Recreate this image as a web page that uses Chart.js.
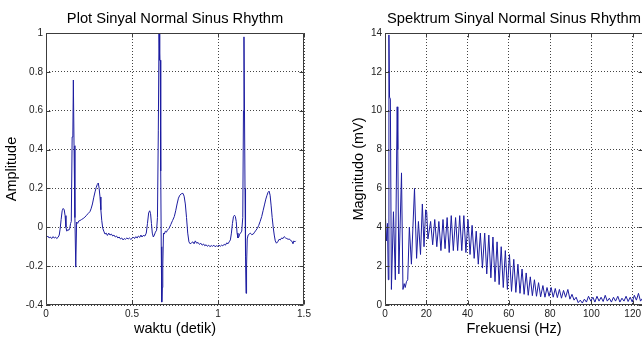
<!DOCTYPE html>
<html><head><meta charset="utf-8">
<script src="https://cdn.jsdelivr.net/npm/chart.js@4.4.0/dist/chart.umd.min.js"></script>
<style>
html,body{margin:0;padding:0;background:#fff;overflow:hidden;width:642px;height:338px;}
#c1{position:absolute;left:0;top:0;}
#c2{position:absolute;left:320px;top:0;}
</style></head><body>
<canvas id="c1" width="320" height="338"></canvas>
<canvas id="c2" width="330" height="338"></canvas>
<script>
// ECG signal (time in seconds, amplitude)
const ecgTime = [
0.000,0.010,0.018,0.025,0.033,0.040,0.048,0.055,0.062,0.070,0.077,0.082,0.088,0.094,0.100,0.106,0.111,0.116,0.121,0.127,
0.133,0.138,0.143,0.147,0.152,0.156,0.159,0.163,0.168,0.173,0.178,0.184,0.190,0.198,0.207,0.216,0.226,0.236,0.246,0.255,
0.262,0.270,0.278,0.285,0.292,0.298,0.304,0.309,0.314,0.319,0.324,0.330,0.336,0.343,0.350,0.357,0.365,0.372,0.380,0.388,
0.395,0.403,0.410,0.418,0.425,0.433,0.440,0.448,0.455,0.462,0.470,0.478,0.485,0.493,0.500,0.508,0.515,0.522,0.530,0.537,
0.545,0.552,0.558,0.565,0.575,0.583,0.590,0.597,0.603,0.608,0.613,0.618,0.624,0.630,0.636,0.643,0.648,0.653,0.657,0.661,
0.664,0.667,0.670,0.673,0.676,0.679,0.683,0.688,0.694,0.700,0.706,0.716,0.726,0.736,0.746,0.754,0.762,0.770,0.778,0.786,
0.796,0.803,0.810,0.817,0.824,0.831,0.838,0.846,0.854,0.861,0.868,0.876,0.884,0.892,0.900,0.908,0.916,0.923,0.931,0.938,
0.946,0.953,0.961,0.968,0.976,0.983,0.991,0.998,1.006,1.013,1.021,1.028,1.036,1.043,1.051,1.058,1.065,1.072,1.078,1.084,
1.090,1.096,1.101,1.106,1.111,1.116,1.121,1.126,1.131,1.138,1.144,1.148,1.151,1.154,1.157,1.160,1.163,1.166,1.170,1.175,
1.181,1.188,1.196,1.205,1.213,1.221,1.229,1.237,1.245,1.254,1.262,1.270,1.278,1.285,1.291,1.297,1.303,1.309,1.315,1.321,
1.327,1.333,1.340,1.347,1.355,1.362,1.370,1.378,1.385,1.393,1.400,1.408,1.415,1.422,1.430,1.436,1.441,1.447,1.452];
const ecgAmp = [
-0.055,-0.045,-0.055,-0.050,-0.058,-0.048,-0.055,-0.050,-0.058,-0.052,-0.040,-0.010,0.040,0.085,0.097,0.090,0.060,0.000,-0.020,-0.012,
-0.015,-0.005,0.020,0.030,0.465,0.470,0.758,0.420,0.050,-0.205,0.027,0.020,0.032,0.035,0.040,0.045,0.052,0.062,0.072,0.080,
0.095,0.120,0.155,0.182,0.205,0.220,0.228,0.200,0.156,0.090,0.036,-0.005,-0.020,-0.035,-0.030,-0.042,-0.030,-0.040,-0.035,-0.045,
-0.040,-0.050,-0.045,-0.055,-0.050,-0.060,-0.055,-0.065,-0.058,-0.062,-0.055,-0.060,-0.055,-0.062,-0.058,-0.050,-0.058,-0.048,-0.055,-0.045,
-0.052,-0.040,-0.050,-0.042,-0.045,-0.030,0.020,0.075,0.085,0.070,0.020,-0.030,-0.050,-0.040,-0.025,-0.015,0.050,0.500,1.000,0.860,
0.860,0.290,-0.100,-0.385,-0.310,-0.200,-0.030,-0.035,-0.020,-0.025,-0.015,-0.005,0.015,0.035,0.055,0.085,0.120,0.150,0.165,0.172,
0.175,0.160,0.120,0.050,-0.030,-0.075,-0.085,-0.080,-0.075,-0.085,-0.070,-0.082,-0.078,-0.088,-0.082,-0.092,-0.086,-0.095,-0.090,-0.098,
-0.092,-0.100,-0.094,-0.098,-0.092,-0.100,-0.095,-0.098,-0.092,-0.098,-0.092,-0.095,-0.088,-0.092,-0.080,-0.085,-0.075,-0.065,-0.030,0.020,
0.055,0.062,0.055,0.030,-0.030,-0.055,-0.050,-0.035,-0.030,-0.020,0.050,0.600,0.980,0.600,0.200,-0.150,-0.340,-0.200,-0.060,-0.040,
-0.035,-0.030,-0.038,-0.035,-0.025,-0.015,-0.005,0.010,0.030,0.055,0.085,0.115,0.145,0.165,0.180,0.186,0.165,0.110,0.050,0.000,
-0.040,-0.070,-0.082,-0.075,-0.062,-0.065,-0.055,-0.058,-0.048,-0.055,-0.058,-0.062,-0.060,-0.068,-0.072,-0.085,-0.070,-0.075,-0.070];

// Spectrum (frequency in Hz, magnitude)
const specFreq = [
0.0,0.7,1.2,1.6,1.9,2.2,2.6,3.1,4.1,5.0,5.9,6.2,6.7,8.0,8.7,9.3,9.8,10.4,11.0,11.8,
12.8,14.3,15.3,16.2,17.2,18.1,18.9,19.7,20.2,20.8,22.1,23.1,24.1,25.1,26.1,27.1,28.1,29.1,30.1,31.1,
32.1,33.1,34.2,35.2,36.2,37.2,38.2,39.2,40.2,41.2,42.2,43.2,44.2,45.2,46.2,47.2,48.3,49.3,50.3,51.3,
52.3,53.3,54.3,55.3,56.3,57.3,58.3,59.3,60.3,61.3,62.4,63.4,64.4,65.4,66.4,67.4,68.4,69.4,70.4,71.4,
72.4,73.4,74.4,75.4,76.5,77.5,78.5,79.5,80.5,81.5,82.5,83.5,84.5,85.5,86.5,87.5,88.6,89.6,90.6,91.6,
92.6,93.6,94.6,95.6,96.6,97.6,98.6,99.7,100.7,101.7,102.7,103.7,104.7,105.7,106.7,107.7,108.7,109.7,110.7,111.7,
112.8,113.8,114.8,115.8,116.8,117.8,118.8,119.8,120.8,121.8,122.8,123.8,124.8];
const specMag = [
5.1,3.3,4.2,1.3,13.9,10.7,10.6,0.8,4.8,1.3,10.2,8.0,1.6,6.8,0.8,1.1,0.9,1.2,1.3,4.0,
2.1,6.0,2.4,4.3,2.6,5.2,3.0,4.9,4.8,3.4,4.3,3.1,4.4,3.0,4.3,2.8,4.4,2.9,4.5,2.7,
4.6,2.8,4.5,2.8,4.6,2.8,4.6,2.7,4.4,2.6,4.1,2.4,3.8,2.1,3.7,1.9,3.7,1.6,3.6,1.4,
3.5,1.2,3.25,1.05,3.0,0.9,2.8,0.8,2.6,0.7,2.35,0.65,2.1,0.6,1.85,0.55,1.65,0.5,1.45,0.48,
1.3,0.45,1.15,0.42,1.0,0.4,0.9,0.45,0.9,0.4,0.85,0.38,0.8,0.35,0.75,0.4,0.8,0.3,0.55,0.25,
0.4,0.12,0.25,0.1,0.3,0.15,0.45,0.2,0.4,0.15,0.45,0.2,0.4,0.18,0.5,0.2,0.35,0.15,0.4,0.2,
0.45,0.15,0.35,0.2,0.45,0.18,0.4,0.15,0.5,0.25,0.6,0.2,0.35];

const ecgXTicks = ['0','0.5','1','1.5'];
const ecgYTicks = ['-0.4','-0.2','0','0.2','0.4','0.6','0.8','1'];
const specXTicks = ['0','20','40','60','80','100','120'];
const specYTicks = ['0','2','4','6','8','10','12','14'];

const FONT = "'Liberation Sans', Arial, Helvetica, sans-serif";
const LINE = 'rgb(28,28,160)';
const GRID = 'rgba(35,35,35,0.85)';

const framePlugin = {
  id: 'frame',
  afterDraw(chart) {
    const {ctx, chartArea: a, scales} = chart;
    const L = Math.round(a.left) + 0.5, R = Math.round(a.right) - 0.5;
    const T = Math.round(a.top) + 0.5, B = Math.round(a.bottom) - 0.5;
    ctx.save();
    ctx.setLineDash([]);
    ctx.strokeStyle = '#3c3c3c';
    ctx.lineWidth = 1;
    ctx.beginPath();
    ctx.moveTo(L, T); ctx.lineTo(R, T); ctx.lineTo(R, B); ctx.lineTo(L, B); ctx.closePath();
    const tl = 4;
    scales.x.ticks.forEach(t => {
      const p = Math.round(scales.x.getPixelForValue(t.value)) + 0.5;
      ctx.moveTo(p, B); ctx.lineTo(p, B - tl);
      ctx.moveTo(p, T); ctx.lineTo(p, T + tl);
    });
    scales.y.ticks.forEach(t => {
      const p = Math.round(scales.y.getPixelForValue(t.value)) + 0.5;
      ctx.moveTo(L, p); ctx.lineTo(L + tl, p);
      ctx.moveTo(R, p); ctx.lineTo(R - tl, p);
    });
    ctx.stroke();
    ctx.restore();
  }
};

function build(id, xs, ys, xr, yr, xl, yl, xTitle, yTitle, title, yTitlePad, yWidth, rightPad) {
  new Chart(document.getElementById(id), {
    type: 'line',
    data: { datasets: [{
      data: xs.map((x, i) => ({x: x, y: ys[i]})),
      borderColor: LINE, borderWidth: 1, pointRadius: 0, tension: 0, fill: false
    }]},
    options: {
      responsive: false, animation: false, devicePixelRatio: 1,
      layout: { padding: { left: 0, right: rightPad, top: 0, bottom: 0 } },
      plugins: {
        legend: { display: false }, tooltip: { enabled: false },
        title: { display: true, text: title, fullSize: false, color: '#000',
          font: { family: FONT, size: 14.7, weight: 'normal' },
          padding: { top: 10, bottom: 5.36 } }
      },
      scales: {
        x: {
          type: 'linear', min: xr[0], max: xr[1],
          ticks: { stepSize: xr[2], includeBounds: false, autoSkip: false, maxRotation: 0,
            padding: 3, color: '#222', font: { family: FONT, size: 10 },
            callback: (v, i) => xl[i] },
          grid: { color: GRID, lineWidth: 1, drawTicks: false },
          border: { display: false, dash: [1, 2] },
          title: { display: true, text: xTitle, color: '#000',
            font: { family: FONT, size: 14.5 }, padding: { top: 0, bottom: 0 } },
          afterFit: s => { s.height = 33; }
        },
        y: {
          type: 'linear', min: yr[0], max: yr[1],
          ticks: { stepSize: yr[2], includeBounds: false, autoSkip: false,
            padding: 3, color: '#222', font: { family: FONT, size: 10 },
            callback: (v, i) => yl[i] },
          grid: { color: GRID, lineWidth: 1, drawTicks: false },
          border: { display: false, dash: [1, 2] },
          title: { display: true, text: yTitle, color: '#000',
            font: { family: FONT, size: 14.5 }, padding: { top: yTitlePad, bottom: 0 } },
          afterFit: s => { s.width = yWidth; }
        }
      }
    },
    plugins: [framePlugin]
  });
}

build('c1', ecgTime, ecgAmp, [0, 1.5, 0.5], [-0.4, 1, 0.2], ecgXTicks, ecgYTicks,
  'waktu (detik)', 'Amplitude', 'Plot Sinyal Normal Sinus Rhythm', 3.3, 46, 16);
build('c2', specFreq, specMag, [0, 125, 20], [0, 14, 2], specXTicks, specYTicks,
  'Frekuensi (Hz)', 'Magnitudo (mV)', 'Spektrum Sinyal Normal Sinus Rhythm', 30.3, 65, 7);
</script>
</body></html>
